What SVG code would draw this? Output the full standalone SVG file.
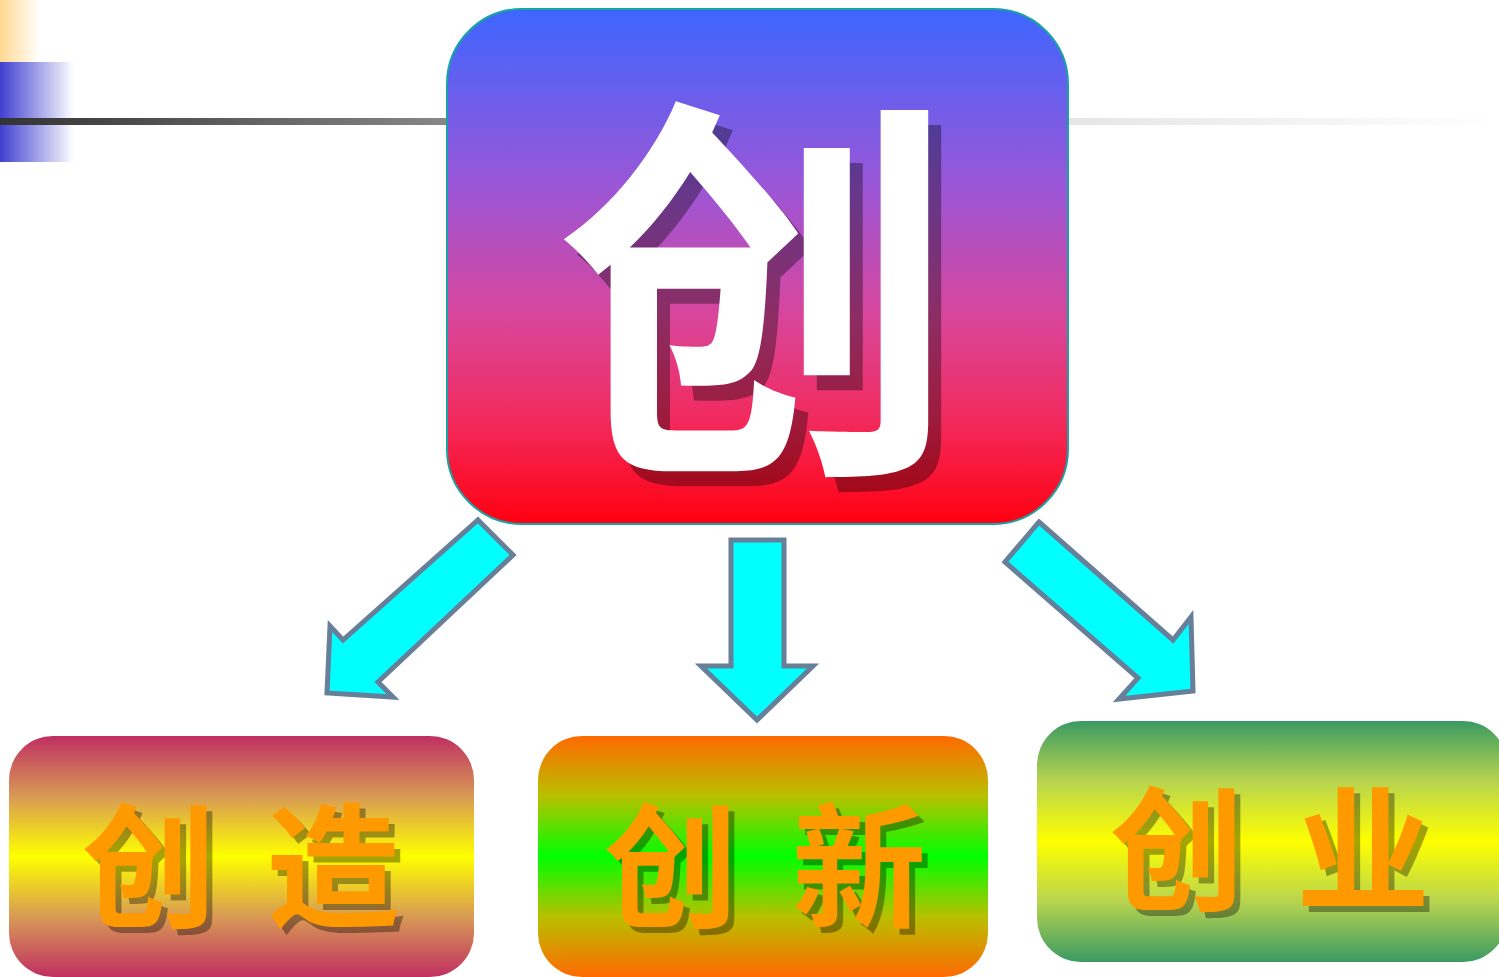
<svg xmlns="http://www.w3.org/2000/svg" width="1499" height="977" viewBox="0 0 1499 977">
<style>
.arrow{fill:#00ffff;stroke:#677f98;stroke-width:5;stroke-linejoin:miter}
.cjk{font-family:"Noto Sans CJK SC","Noto Sans CJK TC",sans-serif;font-weight:bold}
.sub{font-size:134px}
.fg{fill:#ff9900}
.sh{fill:#000;fill-opacity:0.35}
</style>
<defs>
<linearGradient id="gOr" x1="0" y1="0" x2="1" y2="0"><stop offset="0" stop-color="#ffd890"/><stop offset="1" stop-color="#fff"/></linearGradient>
<linearGradient id="gBl" x1="0" y1="0" x2="1" y2="0"><stop offset="0" stop-color="#4040d0"/><stop offset="1" stop-color="#fff"/></linearGradient>
<linearGradient id="gLine" gradientUnits="userSpaceOnUse" x1="0" y1="0" x2="1499" y2="0"><stop offset="0" stop-color="#333"/><stop offset="0.3" stop-color="#888"/><stop offset="0.71" stop-color="#e5e5e5"/><stop offset="1" stop-color="#fff"/></linearGradient>
<linearGradient id="gMain" x1="0" y1="0" x2="0" y2="1"><stop offset="0" stop-color="#3d66ff"/><stop offset="0.35" stop-color="#9c56d6"/><stop offset="0.6" stop-color="#d9459a"/><stop offset="0.8" stop-color="#f22a5c"/><stop offset="1" stop-color="#ff0010"/></linearGradient>
<linearGradient id="g1" x1="0" y1="0" x2="0" y2="1"><stop offset="0" stop-color="#c02f62"/><stop offset="0.25" stop-color="#d89a55"/><stop offset="0.5" stop-color="#ffff00"/><stop offset="0.75" stop-color="#d89a55"/><stop offset="1" stop-color="#c02f62"/></linearGradient>
<linearGradient id="g2" x1="0" y1="0" x2="0" y2="1"><stop offset="0" stop-color="#ff6a00"/><stop offset="0.25" stop-color="#b8c000"/><stop offset="0.5" stop-color="#00ff00"/><stop offset="0.75" stop-color="#b8c000"/><stop offset="1" stop-color="#ff6a00"/></linearGradient>
<linearGradient id="g3" x1="0" y1="0" x2="0" y2="1"><stop offset="0" stop-color="#3a9a62"/><stop offset="0.25" stop-color="#b8d450"/><stop offset="0.5" stop-color="#ffff00"/><stop offset="0.75" stop-color="#b8d450"/><stop offset="1" stop-color="#3a9a62"/></linearGradient>
</defs>
<rect x="0" y="0" width="1499" height="977" fill="#fff"/>
<g id="decor">
<rect x="0" y="0" width="40" height="62" fill="url(#gOr)"/>
<rect x="0" y="62" width="74" height="100" fill="url(#gBl)"/>
<rect x="0" y="118" width="1499" height="7" fill="url(#gLine)"/>
</g>
<g id="node-main">
<rect x="447" y="9" width="621" height="515" rx="75" ry="75" fill="url(#gMain)" stroke="#1aa3a3" stroke-width="2"/>
<text class="cjk sh" x="770" y="457" font-size="400" text-anchor="middle">创</text>
<text class="cjk" x="757" y="442" font-size="400" text-anchor="middle" fill="#fff">创</text>
</g>
<g id="connectors">
<polygon class="arrow" points="478,520 513,555 378,682 393,697 327,693 330,626 343,640"/>
<polygon class="arrow" points="731,540 784,540 784,666 813,666 757,720 701,666 731,666"/>
<polygon class="arrow" points="1039,522 1173,640 1191,617 1193,691 1119,699 1138,678 1005,562"/>
</g>
<g id="node-chuangzao">
<rect x="9" y="736" width="465" height="241" rx="44" ry="44" fill="url(#g1)"/>
<text class="cjk sub sh" x="88 0 272" y="923">创 造</text>
<text class="cjk sub fg" x="82 0 266" y="917">创 造</text>
</g>
<g id="node-chuangxin">
<rect x="538" y="736" width="450" height="241" rx="44" ry="44" fill="url(#g2)"/>
<text class="cjk sub sh" x="610 0 798" y="923">创 新</text>
<text class="cjk sub fg" x="604 0 792" y="917">创 新</text>
</g>
<g id="node-chuangye">
<rect x="1037" y="721" width="470" height="241" rx="44" ry="44" fill="url(#g3)"/>
<text class="cjk sub sh" x="1116 0 1302" y="906">创 业</text>
<text class="cjk sub fg" x="1110 0 1296" y="900">创 业</text>
</g>
</svg>
